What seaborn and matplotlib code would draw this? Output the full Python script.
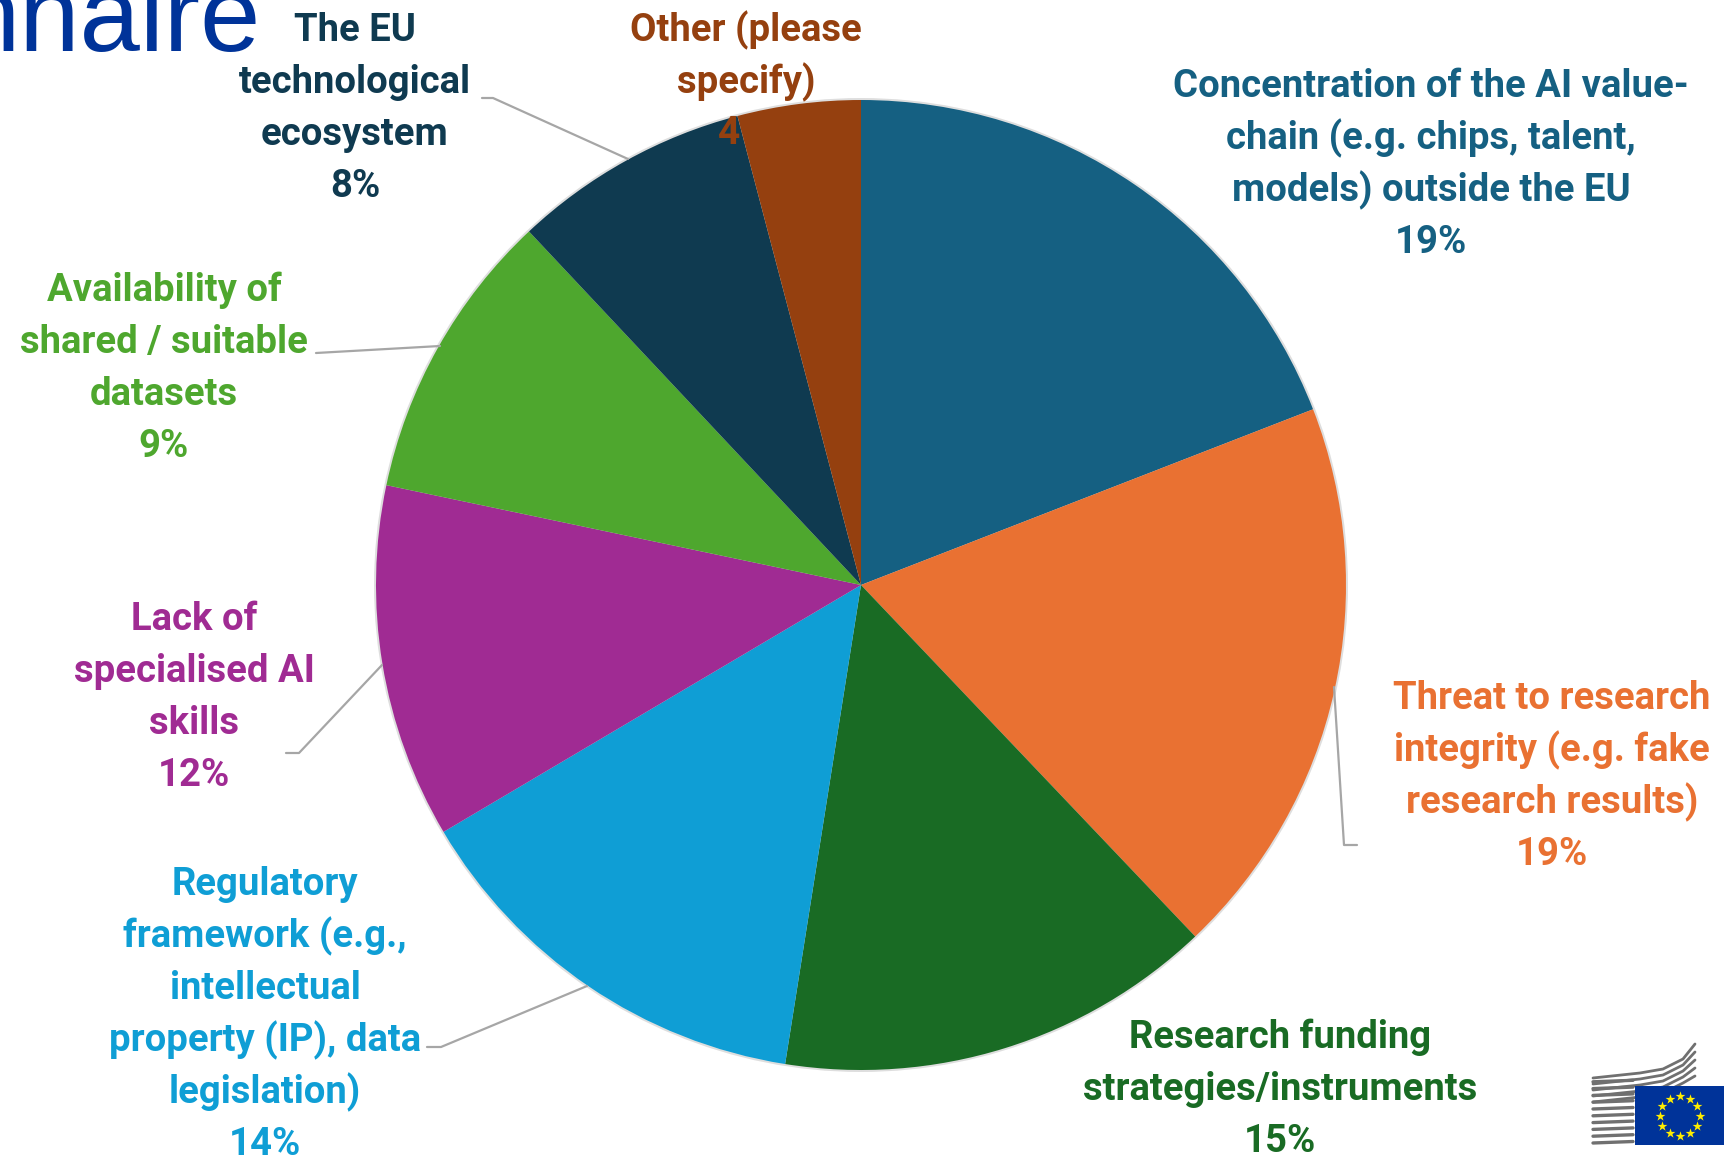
import matplotlib
matplotlib.use('Agg')
import matplotlib.pyplot as plt
from matplotlib.patches import Circle, Rectangle
import seaborn as sns
import numpy as np

# pie data
categories = [
    'Concentration of the AI value-\nchain (e.g. chips, talent,\nmodels) outside the EU',
    'Threat to research\nintegrity (e.g. fake\nresearch results)',
    'Research funding\nstrategies/instruments',
    'Regulatory\nframework (e.g.,\nintellectual\nproperty (IP), data\nlegislation)',
    'Lack of\nspecialised AI\nskills',
    'Availability of\nshared / suitable\ndatasets',
    'The EU\ntechnological\necosystem',
    'Other (please\nspecify)',
]
shares = [19.1, 18.8, 14.6, 14.0, 11.8, 9.7, 7.9, 4.1]
percent_labels = ['19%', '19%', '15%', '14%', '12%', '9%', '8%', '']
slice_colors = ['#156082', '#E97132', '#196B24', '#0F9ED5', '#A02B93', '#4EA72E', '#0F3A50', '#95400F']

# label centres and leader lines, in image pixels (y from the top)
label_pos = [(1431, 163), (1552, 775), (1280, 1088), (265, 1013),
             (194, 696), (164, 367), (355, 107), (746, 55)]
leaders = [
    [(482, 98), (493, 98), (628, 159)],
    [(316, 353), (440, 346)],
    [(286, 753), (299, 753), (382, 665)],
    [(427, 1047), (441, 1047), (587, 986)],
    [(1357, 845), (1344, 845), (1334, 687)],
]

W, H = 1736, 1157
LINE_PITCH = 52

sns.set_theme(style='white')
plt.rcParams['font.family'] = ['Roboto', 'DejaVu Sans']

fig = plt.figure(figsize=(W / 100, H / 100), dpi=100)
ax = fig.add_axes([0, 0, 1, 1])

def py(y):
    return H - y

palette = sns.color_palette(slice_colors)

# soft edge round the pie
ax.add_patch(Circle((861, py(585)), 487, facecolor='#dedede', edgecolor='none', zorder=0))
ax.pie(shares, colors=palette, startangle=90, counterclock=False,
       center=(861, py(585)), radius=485, frame=False,
       wedgeprops={'linewidth': 0, 'zorder': 1})
ax.set_xlim(0, W)
ax.set_ylim(0, H)
ax.set_aspect('equal')
ax.axis('off')

for pts in leaders:
    xs = [p[0] for p in pts]
    ys = [py(p[1]) for p in pts]
    ax.plot(xs, ys, color='#a6a6a6', linewidth=1.6, zorder=2)

# one text per line so the pitch stays even
for cat, pct, pos, col in zip(categories, percent_labels, label_pos, palette):
    lines = cat.split('\n') + ([pct] if pct else [])
    for i, line in enumerate(lines):
        y = pos[1] + (i - (len(lines) - 1) / 2) * LINE_PITCH + 12
        ax.text(pos[0], py(y), line, color=col, ha='center', va='baseline',
                fontsize=27.5, fontweight='bold', zorder=5)

# stray value label of the last slice
ax.text(729, py(134), '4', color=slice_colors[7], ha='center', va='center',
        fontsize=28, fontweight='bold', zorder=5)

# end of the slide title, cut by the top of the image
ax.text(261, py(51), 'nnaire', color='#003399', ha='right', va='baseline',
        fontsize=78, family='Liberation Sans', zorder=5)

# European Commission logo
ax.add_patch(Rectangle((1635, py(1145)), 89, 59, facecolor='#003399', edgecolor='none', zorder=5))
star_t = np.deg2rad(np.arange(0, 360, 30))
ax.scatter(1679.5 + 20 * np.cos(star_t), py(1116) + 20 * np.sin(star_t), marker='*', s=55,
           color='#ffed00', linewidths=0, zorder=6)
for i in range(10):
    y0 = 1143 - i * 6.8
    ax.plot([1593, 1633], [py(y0), py(y0 - 1.5)], color='#707070', linewidth=2.4, zorder=4)
for i in range(5):
    y0 = 1078 + i * 6
    xs = [1593, 1640, 1663, 1683, 1695]
    ys = [y0, y0 - 5, y0 - 9, y0 - 19, y0 - 34 + i * 2]
    ax.plot(xs, [py(v) for v in ys], color='#707070', linewidth=2, zorder=3)

fig.savefig('out.png', dpi=100)
